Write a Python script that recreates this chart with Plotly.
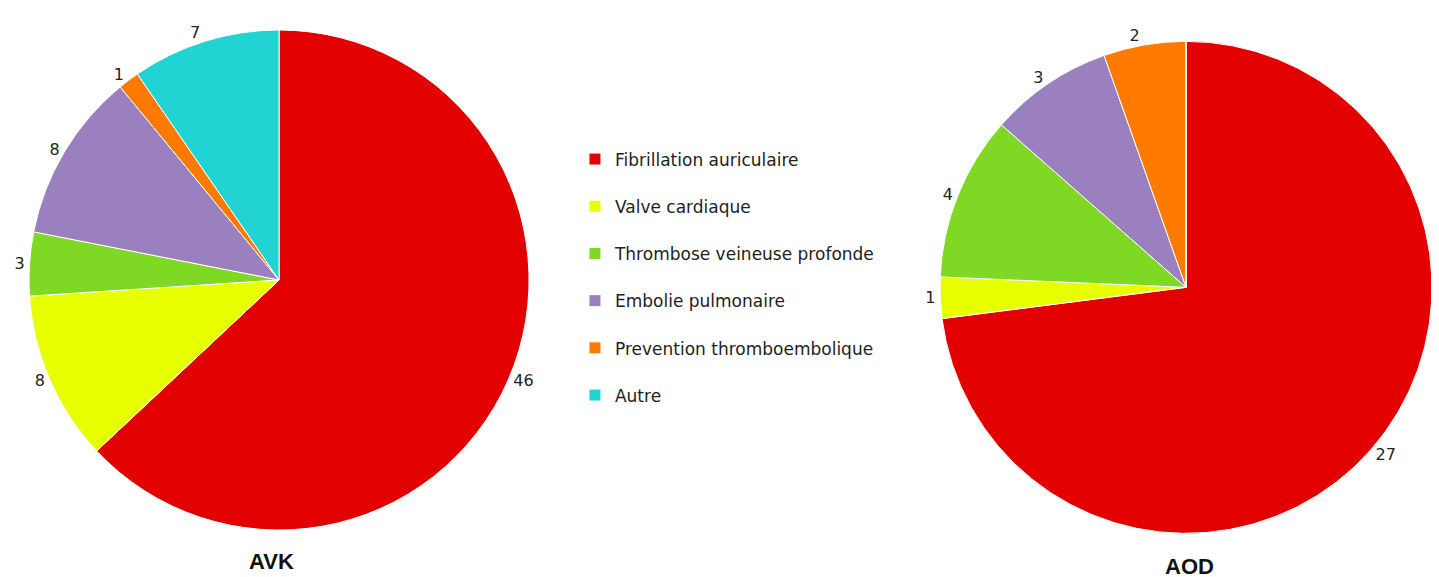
import plotly.graph_objects as go

categories = ["Fibrillation auriculaire", "Valve cardiaque", "Thrombose veineuse profonde",
              "Embolie pulmonaire", "Prevention thromboembolique", "Autre"]
avk_values = [46, 8, 3, 8, 1, 7]
aod_values = [27, 1, 4, 3, 2, 0]
colors = ["#E20000", "#E8FF00", "#7FD823", "#9A80BE", "#FF7A00", "#22D3D3"]

# legend labels padded with a blank line to mimic the spaced-out legend
legend_labels = [c + "<br> " for c in categories]

def txt(vals):
    return [str(v) if v else "" for v in vals]

FONT = "DejaVu Sans, Verdana, sans-serif"

fig = go.Figure()
fig.add_trace(go.Pie(
    labels=legend_labels, values=avk_values, text=txt(avk_values),
    texttemplate="%{text}", textposition="outside",
    sort=False, direction="clockwise", rotation=0,
    marker=dict(colors=colors, line=dict(color="white", width=1)),
    domain=dict(x=[0.0146, 0.3621], y=[0.0953, 0.9619]),
    hovertemplate="%{label}: %{value}<extra>AVK</extra>",
    textfont=dict(size=16, color="#222222", family=FONT),
))
fig.add_trace(go.Pie(
    labels=legend_labels, values=aod_values, text=txt(aod_values),
    texttemplate="%{text}", textposition="outside",
    sort=False, direction="clockwise", rotation=0,
    marker=dict(colors=colors, line=dict(color="white", width=1)),
    domain=dict(x=[0.6477, 0.9896], y=[0.0880, 0.9437]),
    hovertemplate="%{label}: %{value}<extra>AOD</extra>",
    textfont=dict(size=16, color="#222222", family=FONT),
))

fig.add_annotation(x=0.1828, y=0.0407, xref="paper", yref="paper",
                   xanchor="center", yanchor="middle",
                   text="<b>AVK</b>", showarrow=False,
                   font=dict(size=22, color="#111111", family="Liberation Sans, Arial, sans-serif"))
fig.add_annotation(x=0.8214, y=0.0329, xref="paper", yref="paper",
                   xanchor="center", yanchor="middle",
                   text="<b>AOD</b>", showarrow=False,
                   font=dict(size=22, color="#111111", family="Liberation Sans, Arial, sans-serif"))

fig.update_layout(
    width=1439, height=577,
    margin=dict(l=0, r=0, t=0, b=0),
    paper_bgcolor="white", plot_bgcolor="white",
    font=dict(family=FONT, size=16, color="#222222"),
    legend=dict(x=0.3940, y=0.7686, xanchor="left", yanchor="top",
                valign="top", font=dict(size=17, color="#222222", family=FONT),
                bgcolor="rgba(0,0,0,0)"),
    showlegend=True,
)

fig.write_html("out.html")
